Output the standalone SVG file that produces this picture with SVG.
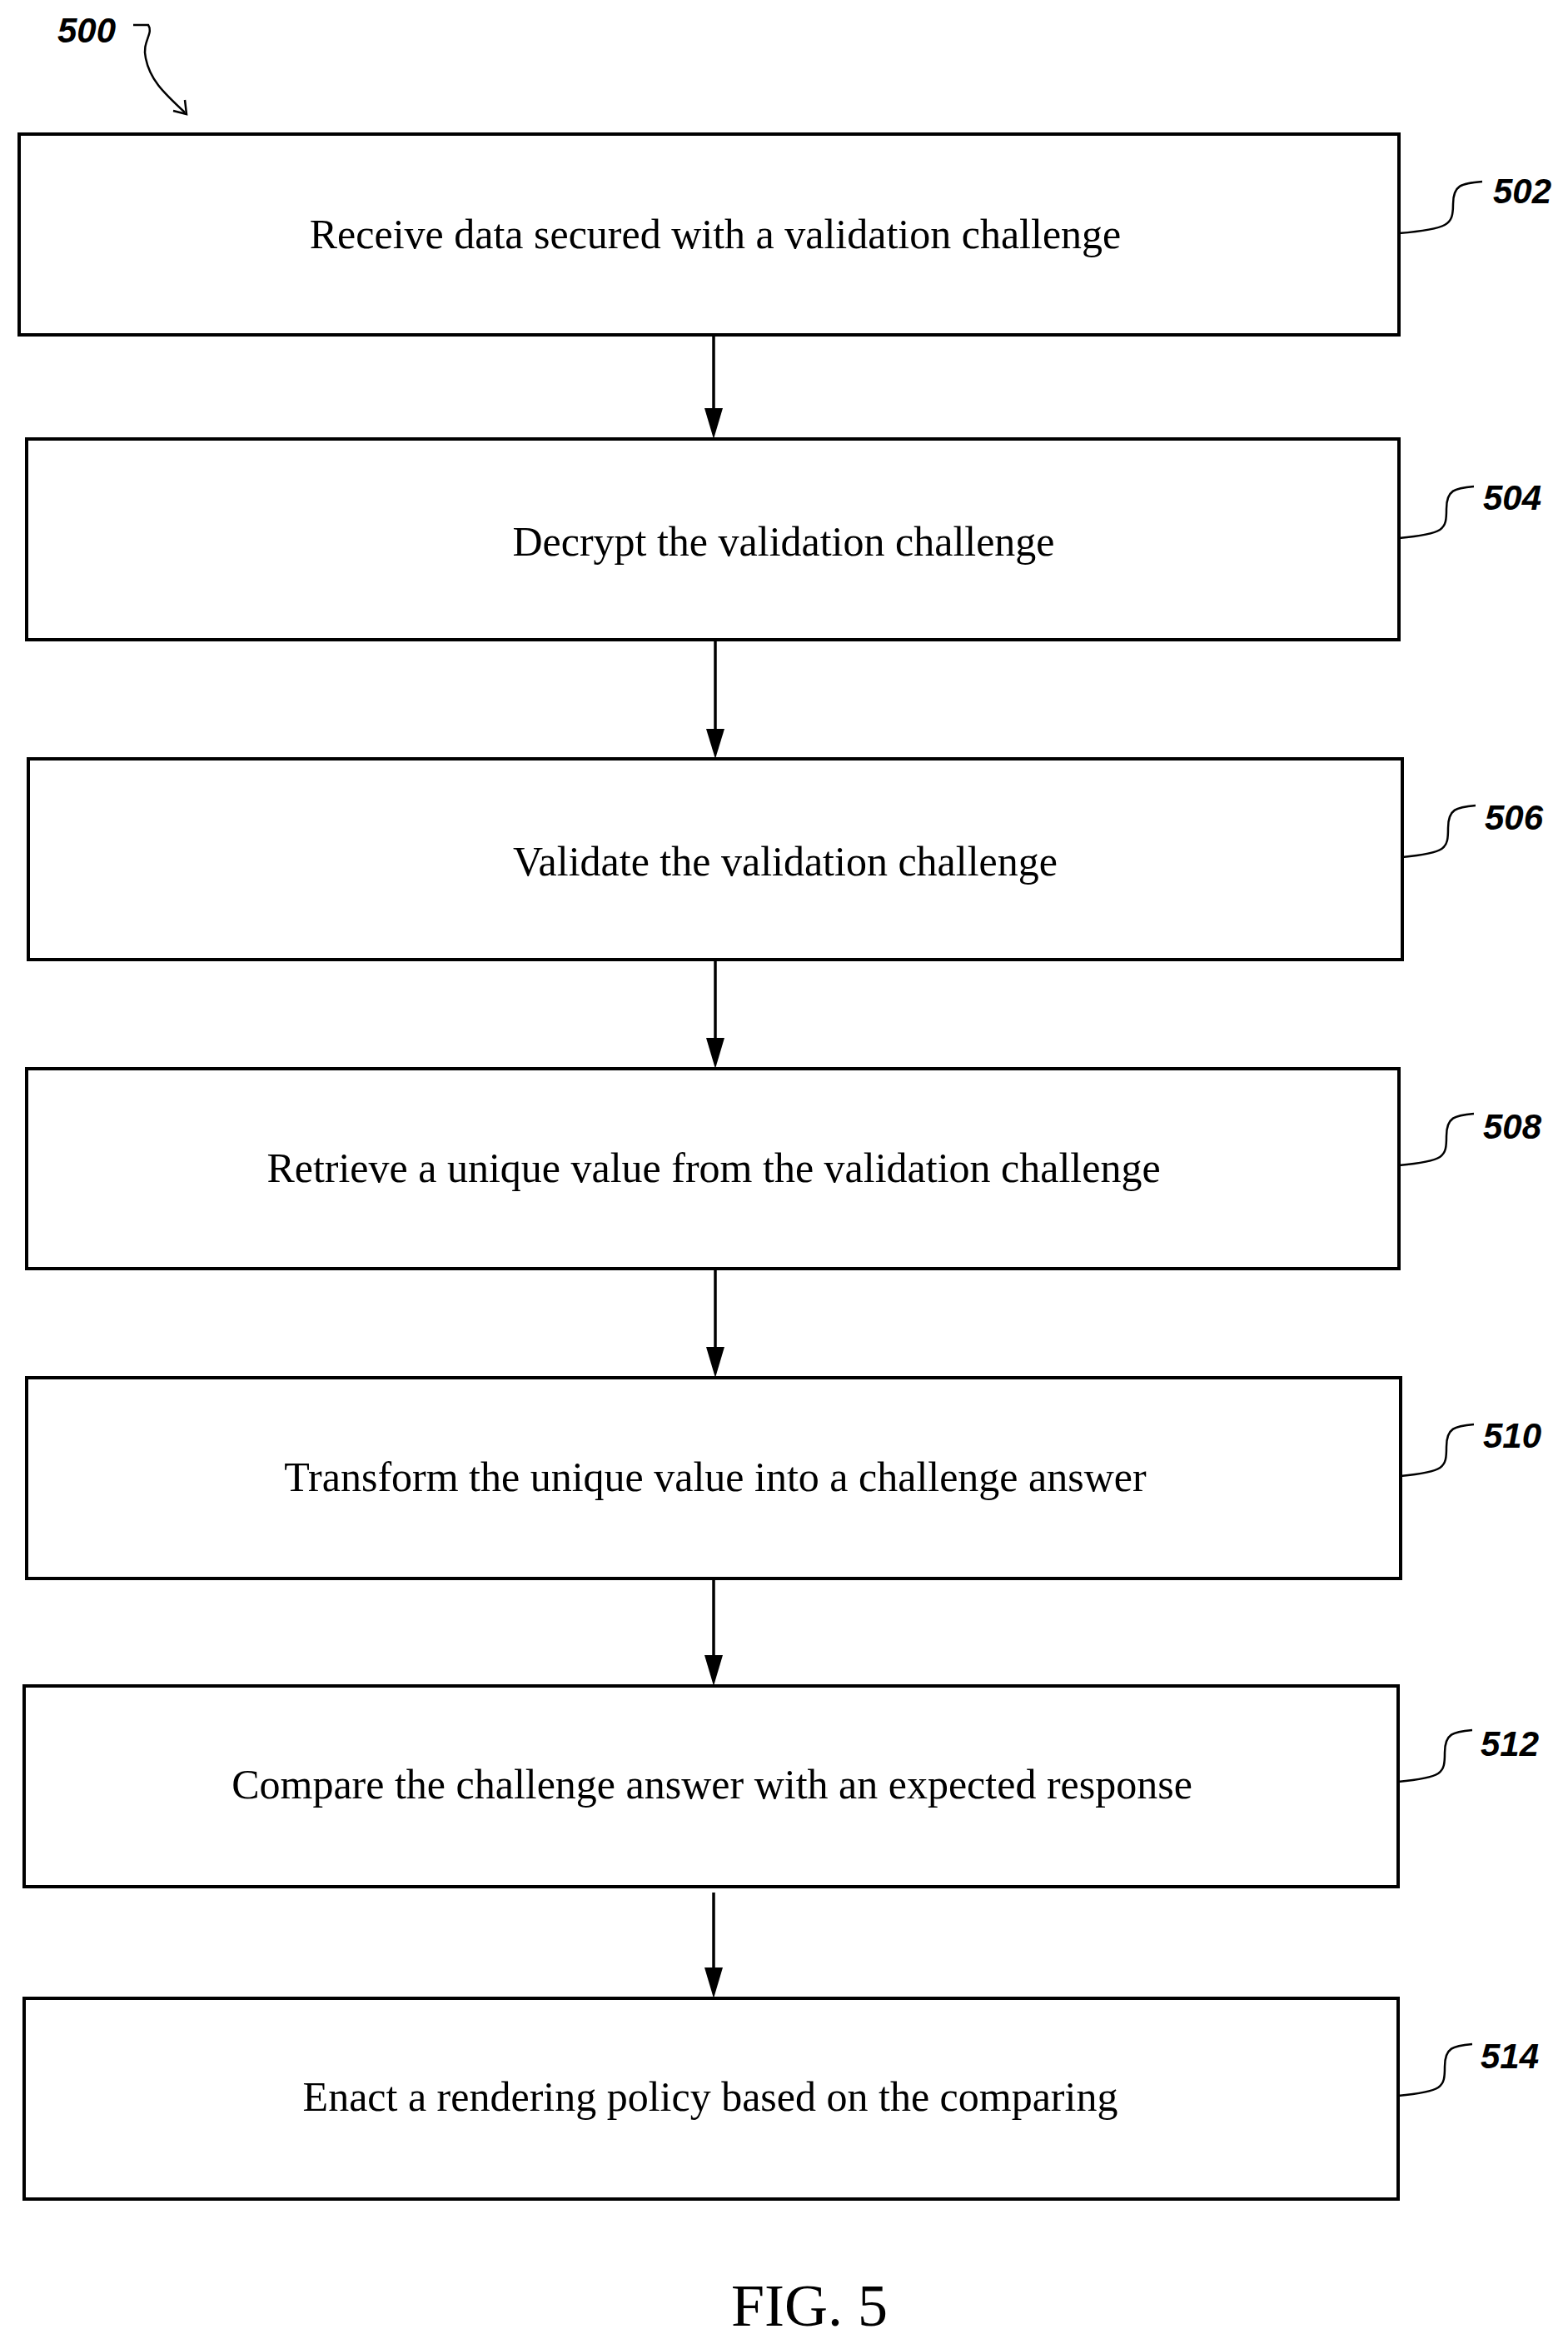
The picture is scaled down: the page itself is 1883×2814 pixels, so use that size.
<svg xmlns="http://www.w3.org/2000/svg" width="1883" height="2814" viewBox="0 0 1883 2814">
<defs>
<style>
.box{fill:#fff;stroke:#000;stroke-width:4}
.t{font-family:"Liberation Serif",serif;font-size:50px;text-anchor:middle}
.lb{font-family:"Liberation Sans",sans-serif;font-weight:bold;font-style:italic;font-size:42px;text-anchor:middle}
.ld{fill:none;stroke:#000;stroke-width:2.5}
.c{stroke:#000;stroke-width:3.5;fill:none}
.ah{fill:#000}
</style>
</defs>
<rect width="1883" height="2814" fill="#fff"/>
<g id="n500">
<text class="lb" x="104" y="51">500</text>
<path class="ld" d="M160,30 H178 C185,40 170,50 175,70 C180,95 195,110 222,135"/>
<path class="ld" d="M208,133 L224,137 L222,120"/>
</g>
<g id="connectors">
<path class="c" d="M857,404 V495"/><polygon class="ah" points="846,490 868,490 857,527"/>
<path class="c" d="M859,770 V880"/><polygon class="ah" points="848,875 870,875 859,911"/>
<path class="c" d="M859,1154 V1250"/><polygon class="ah" points="848,1246 870,1246 859,1283"/>
<path class="c" d="M859,1525 V1622"/><polygon class="ah" points="848,1617 870,1617 859,1654"/>
<path class="c" d="M857,1897 V1992"/><polygon class="ah" points="846,1987 868,1987 857,2024"/>
<path class="c" d="M857,2272 V2367"/><polygon class="ah" points="846,2362 868,2362 857,2399"/>
</g>
<g id="n502"><rect class="box" x="23" y="161" width="1657" height="241"/><text class="t" x="859" y="298">Receive data secured with a validation challenge</text><path class="ld" d="M1680,280 C1740,275 1745,270 1745,245 C1745,222 1755,220 1780,218"/><text class="lb" x="1828" y="244">502</text></g>
<g id="n504"><rect class="box" x="32" y="527" width="1648" height="241"/><text class="t" x="941" y="667">Decrypt the validation challenge</text><path class="ld" d="M1680,646 C1735,641 1737,636 1737,611 C1737,588 1747,586 1770,584"/><text class="lb" x="1816" y="612">504</text></g>
<g id="n506"><rect class="box" x="34" y="911" width="1650" height="241"/><text class="t" x="943" y="1051">Validate the validation challenge</text><path class="ld" d="M1684,1029 C1737,1024 1739,1019 1739,994 C1739,971 1749,969 1772,967"/><text class="lb" x="1818" y="996">506</text></g>
<g id="n508"><rect class="box" x="32" y="1283" width="1648" height="240"/><text class="t" x="857" y="1419">Retrieve a unique value from the validation challenge</text><path class="ld" d="M1680,1399 C1735,1394 1737,1389 1737,1364 C1737,1341 1747,1339 1770,1337"/><text class="lb" x="1816" y="1367">508</text></g>
<g id="n510"><rect class="box" x="32" y="1654" width="1650" height="241"/><text class="t" x="859" y="1790">Transform the unique value into a challenge answer</text><path class="ld" d="M1682,1772 C1735,1767 1737,1762 1737,1737 C1737,1714 1747,1712 1770,1710"/><text class="lb" x="1816" y="1738">510</text></g>
<g id="n512"><rect class="box" x="29" y="2024" width="1650" height="241"/><text class="t" x="855" y="2159">Compare the challenge answer with an expected response</text><path class="ld" d="M1679,2139 C1733,2134 1735,2129 1735,2104 C1735,2081 1745,2079 1768,2077"/><text class="lb" x="1813" y="2108">512</text></g>
<g id="n514"><rect class="box" x="29" y="2399" width="1650" height="241"/><text class="t" x="853" y="2534">Enact a rendering policy based on the comparing</text><path class="ld" d="M1679,2516 C1733,2511 1735,2506 1735,2481 C1735,2458 1745,2456 1768,2454"/><text class="lb" x="1813" y="2483">514</text></g>
<text x="972" y="2792" style="font-family:'Liberation Serif',serif;font-size:72px;text-anchor:middle">FIG. 5</text>
</svg>
